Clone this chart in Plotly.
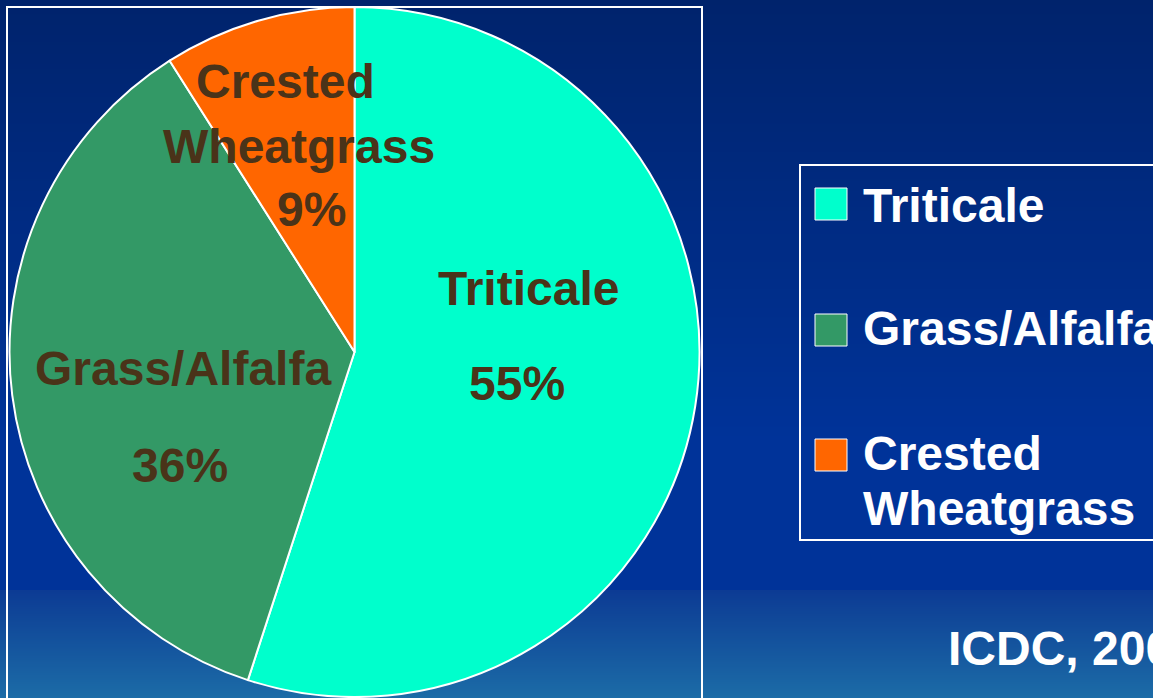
import base64, struct, zlib
import plotly.graph_objects as go

W, H = 1153, 698

# ---- data ----
labels = ["Triticale", "Grass/Alfalfa", "Crested Wheatgrass"]
values = [55, 36, 9]
colors = ["#00FFCC", "#339966", "#FF6600"]
source_note = "ICDC, 2006"

# ---- layout helpers (pixel positions of text baselines) ----
slice_label_pos = {
    "Triticale": [(528, 305), (517, 400)],
    "Grass/Alfalfa": [(183, 385), (180, 482)],
    "Crested Wheatgrass": [(285, 98), (299, 163), (311, 226)],
}
legend_rows = {
    "Triticale": {"box": 188, "lines": [222]},
    "Grass/Alfalfa": {"box": 314, "lines": [345]},
    "Crested Wheatgrass": {"box": 439, "lines": [470, 525]},
}
FONT = "Arial, 'Liberation Sans', Helvetica, sans-serif"
FS = 48
TXT = "#4A3319"


def px(x):
    return x / W


def py(y):
    return 1 - y / H


def yc(baseline):
    return py(baseline - 0.3465 * FS)


def split_label(lab):
    return lab.split(" ") if len(lab) > 14 else [lab]


# ---- background gradient as a tiny PNG ----
def lerp(c1, c2, t):
    return tuple(int(round(a + (b - a) * t)) for a, b in zip(c1, c2))


def bg_color(y):
    top, mid, low1, low2 = (0, 35, 108), (0, 51, 153), (12, 59, 148), (28, 108, 167)
    if y < 440:
        return lerp(top, mid, y / 440)
    if y < 590:
        return mid
    return lerp(low1, low2, (y - 590) / (H - 590))


rows = b"".join(b"\x00" + bytes(bg_color(y)) for y in range(H))


def chunk(tag, data):
    c = tag + data
    return struct.pack(">I", len(data)) + c + struct.pack(">I", zlib.crc32(c) & 0xFFFFFFFF)


png = (b"\x89PNG\r\n\x1a\n" + chunk(b"IHDR", struct.pack(">IIBBBBB", 1, H, 8, 2, 0, 0, 0))
       + chunk(b"IDAT", zlib.compress(rows)) + chunk(b"IEND", b""))
bg_uri = "data:image/png;base64," + base64.b64encode(png).decode()

total = sum(values)

fig = go.Figure(go.Pie(
    labels=labels, values=values, sort=False, direction="clockwise", rotation=0,
    marker=dict(colors=colors, line=dict(color="white", width=2)),
    textinfo="none", hoverinfo="label+percent", showlegend=False,
    domain=dict(x=[px(7), px(702)], y=[py(697), py(7)]),
))

annotations = []
shapes = []
for lab, v in zip(labels, values):
    lines = split_label(lab) + [f"{round(100 * v / total)}%"]
    for text, (x, b) in zip(lines, slice_label_pos[lab]):
        annotations.append(dict(x=px(x), y=yc(b), xref="paper", yref="paper", text=f"<b>{text}</b>",
                                showarrow=False, xanchor="center", yanchor="middle",
                                font=dict(family=FONT, size=FS, color=TXT)))

# legend drawn manually
for lab, col in zip(labels, colors):
    r = legend_rows[lab]
    shapes.append(dict(type="rect", xref="paper", yref="paper", x0=px(815), x1=px(847),
                       y0=py(r["box"] + 32), y1=py(r["box"]), fillcolor=col,
                       line=dict(color="white", width=1)))
    for text, b in zip(split_label(lab), r["lines"]):
        annotations.append(dict(x=px(861), y=yc(b), xref="paper", yref="paper", text=f"<b>{text}</b>",
                                showarrow=False, xanchor="left", yanchor="middle",
                                font=dict(family=FONT, size=FS, color="white")))

# legend frame and plot frame
shapes.append(dict(type="rect", xref="paper", yref="paper", x0=px(800), x1=px(1160),
                   y0=py(540), y1=py(165), line=dict(color="white", width=2)))
shapes.append(dict(type="rect", xref="paper", yref="paper", x0=px(7), x1=px(702),
                   y0=py(705), y1=py(7), line=dict(color="white", width=2)))

annotations.append(dict(x=px(946), y=yc(665), xref="paper", yref="paper", text=f"<b>{source_note}</b>",
                        showarrow=False, xanchor="left", yanchor="middle",
                        font=dict(family=FONT, size=FS, color="white")))

fig.update_layout(
    width=W, height=H, margin=dict(l=0, r=0, t=0, b=0),
    paper_bgcolor="#003399", plot_bgcolor="rgba(0,0,0,0)",
    images=[dict(source=bg_uri, xref="paper", yref="paper", x=0, y=1, sizex=1, sizey=1,
                 sizing="stretch", layer="below", xanchor="left", yanchor="top")],
    shapes=shapes, annotations=annotations,
)

fig.write_html("out.html", config={"displayModeBar": False},
               post_script="document.body.style.margin='0';document.body.style.overflow='hidden';")
